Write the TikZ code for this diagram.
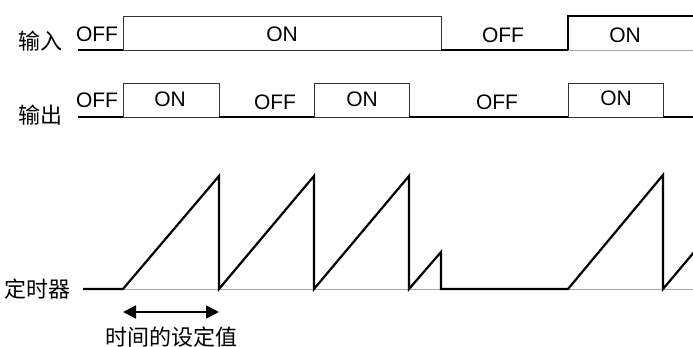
\documentclass[tikz,border=0pt]{standalone}
\usepackage{fontspec}
\setmainfont{Liberation Sans}
\newfontfamily\cjk{Noto Sans CJK SC}
\usetikzlibrary{arrows.meta}
\begin{document}
\begin{tikzpicture}[x=1pt,y=-1pt,
  thickw/.style={line width=2.4pt, black},
  thinw/.style={line width=0.9pt, black!80},
  grayw/.style={line width=0.9pt, black!35},
  lbl/.style={font=\fontsize{21}{21}\selectfont, anchor=base, inner sep=0pt},
  cjklbl/.style={font=\cjk\fontsize{22}{22}\selectfont, inner sep=0pt}]
\useasboundingbox (0,0) rectangle (693,347);
% input row
\draw[thickw] (78,50) -- (123,50);
\draw[thinw] (123,50) -- (123,16) -- (441,16) -- (441,50);
\draw[thinw] (123,50) -- (441,50);
\draw[thickw] (441,50) -- (568,50) -- (568,16) -- (700,16);
\draw[grayw] (568,50) -- (700,50);
% output row
\draw[thickw] (78,117) -- (123,117);
\draw[thinw] (123,117) -- (123,83) -- (219,83) -- (219,117) -- cycle;
\draw[thickw] (219,117) -- (314,117);
\draw[thinw] (314,117) -- (314,83) -- (409,83) -- (409,117) -- cycle;
\draw[thickw] (409,117) -- (568,117);
\draw[thinw] (568,117) -- (568,83) -- (663,83) -- (663,117) -- cycle;
\draw[thickw] (663,117) -- (700,117);
% timer
\draw[grayw] (123,289) -- (700,289);
\draw[thickw, line width=2.2pt] (83,289) -- (123,289) -- (219,176) -- (219,289) -- (314,176) -- (314,289) -- (409,176) -- (409,289) -- (441,252) -- (441,289) -- (568,289) -- (663,175) -- (663,289) -- (700,245);
% arrow
\coordinate (a1) at (123,312);
\coordinate (a2) at (219,312);
\draw[line width=1.8pt, {Triangle[length=13pt,width=13pt]}-{Triangle[length=13pt,width=13pt]}] (a1) -- (a2);
% labels
\node[cjklbl] (in) at (40,41) {输入};
\node[cjklbl] (out) at (40,115) {输出};
\node[cjklbl] (tm) at (38,289) {定时器};
\node[cjklbl] (set) at (171,337) {时间的设定值};
\node[lbl] (i1) at (97,42) {OFF};
\node[lbl] (i2) at (282,42) {ON};
\node[lbl] (i3) at (503,43) {OFF};
\node[lbl] (i4) at (625,43) {ON};
\node[lbl] (o1) at (97,108) {OFF};
\node[lbl] (o2) at (170,107) {ON};
\node[lbl] (o3) at (275,110) {OFF};
\node[lbl] (o4) at (362,107) {ON};
\node[lbl] (o5) at (497,110) {OFF};
\node[lbl] (o6) at (616,106) {ON};
\end{tikzpicture}
\end{document}
